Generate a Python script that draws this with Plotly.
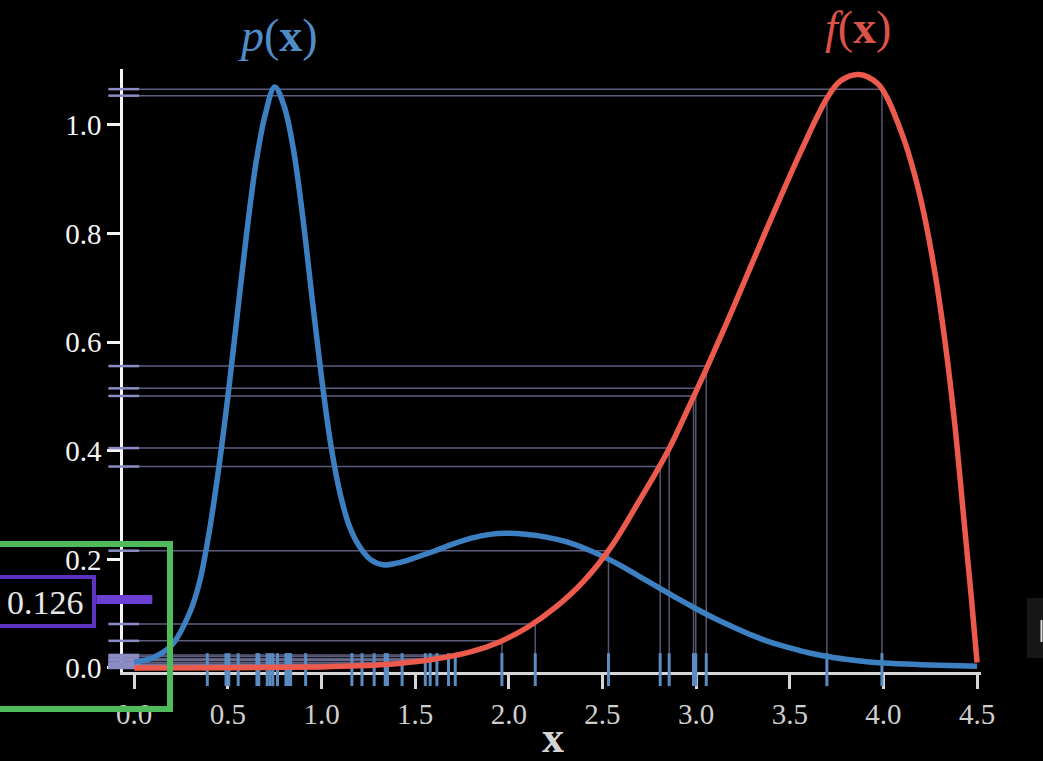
import plotly.graph_objects as go

# ---------------- data ----------------
p_x = [0.0, 0.1, 0.2, 0.3, 0.35, 0.4, 0.45, 0.5, 0.55, 0.6, 0.65, 0.7, 0.75,
       0.8, 0.85, 0.9, 0.95, 1.0, 1.05, 1.1, 1.15, 1.2, 1.26, 1.33, 1.4, 1.5, 1.6, 1.7,
       1.8, 1.9, 1.98, 2.1, 2.2, 2.3, 2.4, 2.5, 2.6, 2.7, 2.8, 2.9, 3.0, 3.1, 3.2, 3.3,
       3.4, 3.5, 3.6, 3.7, 3.8, 3.9, 4.0, 4.2, 4.5]
p_y = [0.011, 0.019, 0.042, 0.105, 0.16, 0.25, 0.365, 0.50, 0.65, 0.80, 0.93, 1.02, 1.07,
       1.035, 0.955, 0.83, 0.68, 0.535, 0.41, 0.32, 0.26, 0.225, 0.20, 0.19, 0.193, 0.203, 0.215, 0.228,
       0.239, 0.246, 0.248, 0.246, 0.241, 0.233, 0.221, 0.206, 0.188, 0.168, 0.148, 0.128, 0.109, 0.091, 0.075, 0.060,
       0.047, 0.037, 0.028, 0.021, 0.016, 0.012, 0.009, 0.006, 0.003]

f_x = [0.0, 0.5, 1.0, 1.2, 1.4, 1.6, 1.8, 1.95, 2.1, 2.25, 2.4, 2.55, 2.7, 2.85, 3.0, 3.05,
       3.2, 3.38, 3.56, 3.7, 3.77, 3.87, 3.97, 4.02, 4.07, 4.13, 4.2, 4.27, 4.33, 4.38, 4.43, 4.47, 4.5]
f_y = [0.0, 0.0005, 0.002, 0.004, 0.008, 0.016, 0.030, 0.048, 0.075, 0.112, 0.160, 0.225, 0.310, 0.400, 0.510, 0.547,
       0.665, 0.811, 0.952, 1.050, 1.081, 1.093, 1.076, 1.050, 1.010, 0.952, 0.862, 0.738, 0.598, 0.452, 0.272, 0.127, 0.010]

samples_x = [0.39, 0.49, 0.505, 0.555, 0.655, 0.665, 0.71, 0.725, 0.74, 0.765, 0.81, 0.822,
             0.835, 0.915, 1.162, 1.216, 1.281, 1.34, 1.352, 1.43, 1.554, 1.58, 1.616, 1.678,
             1.714, 1.963, 2.141, 2.532, 2.808, 2.856, 2.986, 2.998, 3.054, 3.698, 3.992]
samples_f = [0.0, 0.001, 0.001, 0.001, 0.001, 0.001, 0.001, 0.001, 0.001, 0.001, 0.002, 0.002,
             0.002, 0.002, 0.004, 0.005, 0.006, 0.007, 0.007, 0.010, 0.014, 0.015, 0.017, 0.021,
             0.024, 0.050, 0.081, 0.216, 0.371, 0.405, 0.501, 0.515, 0.556, 1.054, 1.066]

estimate = 0.126
x_ticks = [0.0, 0.5, 1.0, 1.5, 2.0, 2.5, 3.0, 3.5, 4.0, 4.5]
y_ticks = [0.0, 0.2, 0.4, 0.6, 0.8, 1.0]

# ---------------- layout geometry ----------------
W, H = 1043, 761
L, R, T, B = 123, 62, 69, 89
XMIN = -0.06
PX_PER_X = 187.3
YMIN = -0.0074
PX_PER_Y = 543.0
XMAX = XMIN + (W - L - R) / PX_PER_X
YMAX = YMIN + (H - T - B) / PX_PER_Y
PW, PH = W - L - R, H - T - B


def px2paper_x(px):
    return (px - L) / PW


def px2paper_y(py):
    return (H - B - py) / PH


SERIF = "Liberation Serif, Times New Roman, serif"
BLUE = "#3d80c2"
RED = "#ec5a4e"
RUG = "#5a8cc2"
PURPLE_TICK = "#8c8cc4"
PURPLE = "#6a3fd2"
GREEN = "#4fbb5b"

# guide lines
vx, vy, hx, hy = [], [], [], []
for xi, fi in zip(samples_x, samples_f):
    vx += [xi, xi, None]
    vy += [0, fi, None]
    hx += [XMIN, xi, None]
    hy += [fi, fi, None]

fig = go.Figure()
fig.add_trace(go.Scatter(x=hx, y=hy, mode="lines",
                         line=dict(color="rgba(115,115,155,0.8)", width=1.5),
                         hoverinfo="skip", showlegend=False))
fig.add_trace(go.Scatter(x=vx, y=vy, mode="lines",
                         line=dict(color="rgba(100,100,130,0.85)", width=1.5),
                         hoverinfo="skip", showlegend=False))
# y-axis ticks at sample values
fig.add_trace(go.Scatter(x=[-0.056] * len(samples_f), y=samples_f, mode="markers",
                         marker=dict(symbol="line-ew-open", size=22, color=PURPLE_TICK,
                                     line=dict(color=PURPLE_TICK, width=2.5)),
                         cliponaxis=False, hoverinfo="skip", showlegend=False))
# rug ticks of samples
fig.add_trace(go.Scatter(x=samples_x, y=[-0.003] * len(samples_x), mode="markers",
                         marker=dict(symbol="line-ns-open", size=23.5, color=RUG,
                                     line=dict(color=RUG, width=3)),
                         cliponaxis=False, hoverinfo="skip", showlegend=False))
# p(x)
fig.add_trace(go.Scatter(x=p_x, y=p_y, mode="lines",
                         line=dict(color=BLUE, width=5.5, shape="spline", smoothing=1.0),
                         hoverinfo="skip", showlegend=False))
# f(x)
fig.add_trace(go.Scatter(x=f_x, y=f_y, mode="lines",
                         line=dict(color=RED, width=5.5, shape="spline", smoothing=1.0),
                         hoverinfo="skip", showlegend=False))
# estimate tick
fig.add_trace(go.Scatter(x=[-0.053], y=[estimate], mode="markers",
                         marker=dict(symbol="line-ew-open", size=40, color=PURPLE,
                                     line=dict(color=PURPLE, width=9)),
                         cliponaxis=False, hoverinfo="skip", showlegend=False))

shapes = [
    # green highlight box
    dict(type="rect", xref="paper", yref="paper",
         x0=px2paper_x(-10), x1=px2paper_x(170), y0=px2paper_y(709), y1=px2paper_y(544),
         line=dict(color=GREEN, width=6), fillcolor="rgba(0,0,0,0)"),
    # purple estimate box
    dict(type="rect", xref="paper", yref="paper",
         x0=px2paper_x(-10), x1=px2paper_x(94), y0=px2paper_y(626), y1=px2paper_y(577),
         line=dict(color="#5c32c0", width=4), fillcolor="rgba(0,0,0,0)"),
    # video artefact at right edge
    dict(type="rect", xref="paper", yref="paper",
         x0=px2paper_x(1027), x1=px2paper_x(1050), y0=px2paper_y(658), y1=px2paper_y(598),
         line=dict(width=0), fillcolor="#161616"),
    dict(type="line", xref="paper", yref="paper",
         x0=px2paper_x(1041.5), x1=px2paper_x(1041.5), y0=px2paper_y(642), y1=px2paper_y(620),
         line=dict(color="#e0e0e0", width=2)),
]

annotations = [
    dict(text="<i>p</i>(<b>x</b>)", xref="paper", yref="paper",
         x=px2paper_x(278), y=px2paper_y(36), showarrow=False,
         font=dict(family=SERIF, size=46, color="#4f8cc8"), xanchor="center", yanchor="middle"),
    dict(text="<i>f</i>(<b>x</b>)", xref="paper", yref="paper",
         x=px2paper_x(858), y=px2paper_y(27), showarrow=False,
         font=dict(family=SERIF, size=46, color="#dc5249"), xanchor="center", yanchor="middle"),
    dict(text="<b>x</b>", xref="paper", yref="paper",
         x=px2paper_x(553), y=px2paper_y(737), showarrow=False,
         font=dict(family=SERIF, size=44, color="#d4d4d4"), xanchor="center", yanchor="middle"),
    dict(text=f"{estimate:.3f}", xref="paper", yref="paper",
         x=px2paper_x(45), y=px2paper_y(602), showarrow=False,
         font=dict(family=SERIF, size=34, color="#e6e6e6"), xanchor="center", yanchor="middle"),
]

fig.update_layout(
    width=W, height=H,
    margin=dict(l=L, r=R, t=T, b=B, pad=0),
    paper_bgcolor="black", plot_bgcolor="black",
    showlegend=False,
    shapes=shapes,
    annotations=annotations,
    xaxis=dict(range=[XMIN, XMAX], showgrid=False, zeroline=False,
               showline=True, linecolor="#d6d6d6", linewidth=3,
               ticks="outside", ticklen=14, tickwidth=3, tickcolor="#d6d6d6",
               tickvals=x_ticks, ticktext=[f"{v:.1f}" for v in x_ticks],
               tickfont=dict(family=SERIF, size=29, color="#cfcfcf"),
               layer="below traces", fixedrange=True),
    yaxis=dict(range=[YMIN, YMAX], showgrid=False, zeroline=False,
               showline=True, linecolor="#f4f4f4", linewidth=2.5,
               ticks="outside", ticklen=13, tickwidth=2.5, tickcolor="#f4f4f4",
               tickvals=y_ticks, ticktext=[f"{v:.1f}" for v in y_ticks],
               tickfont=dict(family=SERIF, size=29, color="#f4f4f4"),
               layer="below traces", fixedrange=True),
)

fig.write_html("out.html",
               config={"displayModeBar": False},
               post_script="document.body.style.margin='0';document.body.style.background='black';")
